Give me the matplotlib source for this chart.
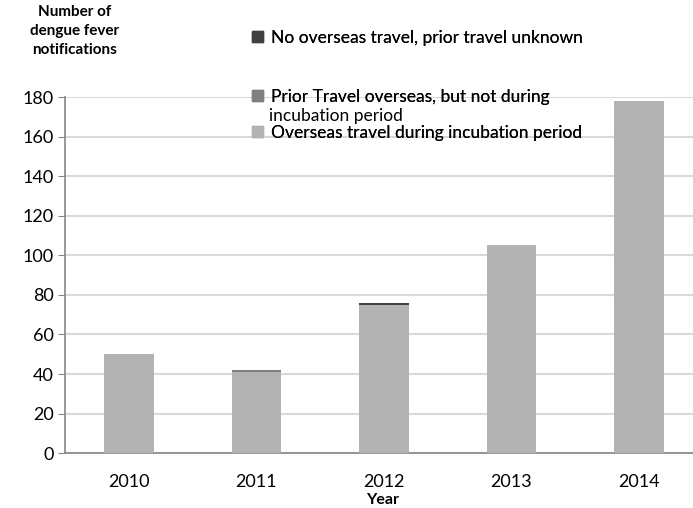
import numpy as np
import matplotlib
matplotlib.use("Agg")
from matplotlib import pyplot as plt
from matplotlib.patches import Patch

plt.rcParams['font.family'] = ['Lato', 'DejaVu Sans']

years = ['2010', '2011', '2012', '2013', '2014']
overseas_incubation = [50, 41, 75, 105, 178]
prior_travel = [0, 1, 0, 0, 0]
no_overseas = [0, 0, 1, 0, 0]

labels = ['No overseas travel, prior travel unknown',
          'Prior Travel overseas, but not during',
          'Overseas travel during incubation period']
colors = ['#404040', '#7f7f7f', '#b3b3b3']

fig = plt.figure(figsize=(6.93, 5.08), dpi=100)
ax = fig.add_axes([0.094, 0.108, 0.92, 0.701])

x = np.arange(len(years))
w = 0.39
b1 = np.array(overseas_incubation)
b2 = b1 + np.array(prior_travel)
ax.bar(x, overseas_incubation, w, color=colors[2], zorder=3)
ax.bar(x, prior_travel, w, bottom=b1, color=colors[1], zorder=3)
ax.bar(x, no_overseas, w, bottom=b2, color=colors[0], zorder=3)

ax.set_xlim(-0.5, 4.5)
ax.set_ylim(0, 180)
ax.set_yticks(range(0, 181, 20))
ax.set_xticks(x)
ax.set_xticklabels(years)
ax.tick_params(axis='x', length=0, pad=15, labelsize=13)
ax.tick_params(axis='y', length=5, color='#868686', labelsize=13, pad=3)
ax.yaxis.grid(True, color='#d9d9d9', linewidth=1.5, zorder=0)
for s in ['top', 'right']:
    ax.spines[s].set_visible(False)
ax.spines['left'].set_color('#868686')
ax.spines['bottom'].set_color('#868686')
ax.spines['left'].set_linewidth(1.2)
ax.spines['bottom'].set_linewidth(1.2)

fig.text(0.5525, 0.029, 'Year', ha='center', va='top', fontsize=11.5, fontweight='bold')
fig.text(0.108, 0.939, 'Number of\ndengue fever\nnotifications', ha='center', va='center',
         fontsize=11, fontweight='bold', linespacing=1.45)

# legend entries, placed one by one like the original layout
positions = [0.925, 0.809, 0.738]
for lab, col, ypos in zip(labels, colors, positions):
    leg = fig.legend(handles=[Patch(color=col)], labels=[lab], loc='center left',
                     bbox_to_anchor=(0.364, ypos), frameon=False, fontsize=12.5,
                     handlelength=0.6, handleheight=0.6, handletextpad=0.5,
                     borderpad=0, borderaxespad=0)
    fig.add_artist(leg)
fig.text(0.388, 0.772, 'incubation period', ha='left', va='center', fontsize=12.5)

fig.savefig('out.png', dpi=100)
